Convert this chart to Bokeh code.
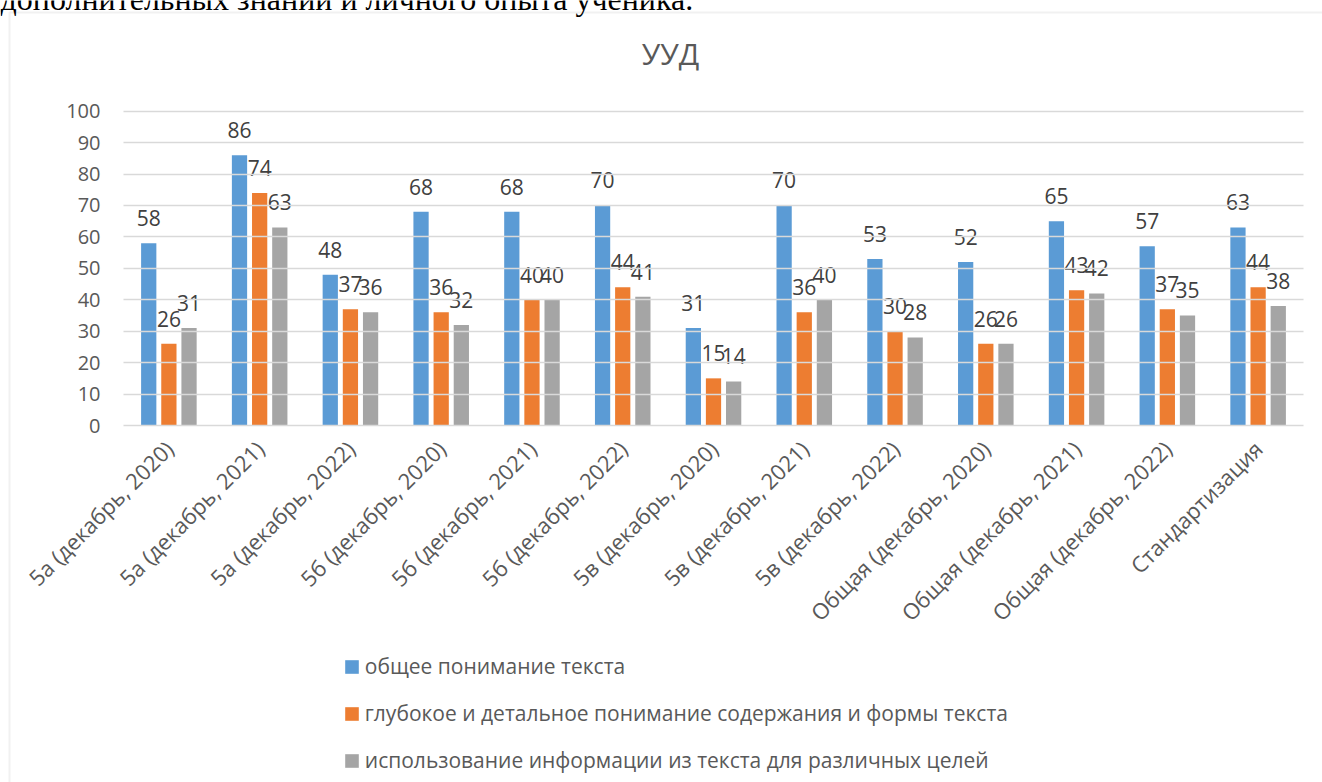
from math import pi
from bokeh.plotting import figure
from bokeh.models import (ColumnDataSource, Range1d, Legend, LegendItem, Label,
                          BoxAnnotation, FixedTicker)
from bokeh.transform import dodge
from bokeh.core.properties import value
from bokeh.embed import file_html
from bokeh.resources import INLINE

# ---------------- data ----------------
categories = [
    "5а (декабрь, 2020)", "5а (декабрь, 2021)", "5а (декабрь, 2022)",
    "5б (декабрь, 2020)", "5б (декабрь, 2021)", "5б (декабрь, 2022)",
    "5в (декабрь, 2020)", "5в (декабрь, 2021)", "5в (декабрь, 2022)",
    "Общая (декабрь, 2020)", "Общая (декабрь, 2021)", "Общая (декабрь, 2022)",
    "Стандартизация",
]
general_understanding = [58, 86, 48, 68, 68, 70, 31, 70, 53, 52, 65, 57, 63]
deep_understanding = [26, 74, 37, 36, 40, 44, 15, 36, 30, 26, 43, 37, 44]
information_use = [31, 63, 36, 32, 40, 41, 14, 40, 28, 26, 42, 35, 38]
series_names = [
    "общее понимание текста",
    "глубокое и детальное понимание содержания и формы текста",
    "использование информации из текста для различных целей",
]
y_ticks = [0, 10, 20, 30, 40, 50, 60, 70, 80, 90, 100]
chart_title = "УУД"
page_text = "дополнительных знаний и личного опыта ученика."

# ---------------- geometry / styles ----------------
colors = ["#5B9BD5", "#ED7D31", "#A5A5A5"]
text_color = "#595959"
grid_color = "#D9D9D9"
font = "Open Sans"

W, H = 1322, 782
AREA_LEFT, AREA_RIGHT = 123.0, 1303.0     # plot area in pixels
Y0_PX, Y100_PX = 425.0, 110.7             # pixel rows of 0 and 100
n = len(categories)
px_per_cat = (AREA_RIGHT - AREA_LEFT) / n
px_per_unit = (Y0_PX - Y100_PX) / 100.0


def xd(px):   # pixel column -> category coordinate (category i centred on i)
    return (px - AREA_LEFT) / px_per_cat - 0.5


def yd(py):   # pixel row -> value coordinate
    return (Y0_PX - py) / px_per_unit


p = figure(
    x_range=Range1d(xd(0), xd(W)), y_range=Range1d(yd(H), yd(0)),
    width=W, height=H, title=None,
    output_backend="svg", toolbar_location=None,
    min_border=0, min_border_left=0, min_border_right=0,
    min_border_top=0, min_border_bottom=0,
)
p.outline_line_color = None
p.background_fill_color = "white"
p.border_fill_color = "white"
p.xgrid.visible = False
p.ygrid.visible = False

# chart-area border (only its left and top edges are inside the window)
p.add_layout(BoxAnnotation(left=xd(9), right=xd(W + 50), top=yd(12), bottom=yd(H + 50),
                           fill_color=None, fill_alpha=0,
                           line_color="#D0D0D0", line_width=2))

series = [general_understanding, deep_understanding, information_use]
offsets = [-0.222, 0.0, 0.222]
src = ColumnDataSource(dict(
    idx=list(range(n)),
    s0=series[0], s1=series[1], s2=series[2],
    t0=[str(v) for v in series[0]],
    t1=[str(v) for v in series[1]],
    t2=[str(v) for v in series[2]],
))

renderers = []
for i in range(3):
    r = p.vbar(x=dodge("idx", offsets[i]), top=f"s{i}", bottom=0,
               width=0.168, source=src, fill_color=colors[i], line_color=None)
    renderers.append(r)
    p.text(x=dodge("idx", offsets[i]), y=f"s{i}", text=f"t{i}",
           source=src, text_align="center", text_baseline="middle", y_offset=-25,
           text_font=value(font), text_font_size="21px", text_color="#404040")

# x axis: category names, fixed on the zero line
p.xaxis.fixed_location = 0
p.xaxis.ticker = FixedTicker(ticks=list(range(n)))
p.xaxis.major_label_overrides = {i: c for i, c in enumerate(categories)}
p.xaxis.major_label_orientation = pi / 4
p.xaxis.axis_line_color = None
p.xaxis.major_tick_line_color = None
p.xaxis.major_tick_in = 0
p.xaxis.major_tick_out = 0
p.xaxis.minor_tick_line_color = None
p.xaxis.major_label_text_font = font
p.xaxis.major_label_text_font_size = "22px"
p.xaxis.major_label_text_color = text_color
p.xaxis.major_label_standoff = 19

# y axis fixed at the left edge of the plot area; its ticks run across as gridlines
p.yaxis.fixed_location = -0.5
p.yaxis.ticker = FixedTicker(ticks=y_ticks)
p.yaxis.axis_line_color = None
p.yaxis.major_tick_out = 0
p.yaxis.major_tick_in = int(AREA_RIGHT - AREA_LEFT)
p.yaxis.major_tick_line_color = grid_color
p.yaxis.major_tick_line_width = 1.5
p.yaxis.minor_tick_line_color = None
p.yaxis.major_label_text_font = font
p.yaxis.major_label_text_font_size = "20px"
p.yaxis.major_label_text_color = text_color
p.yaxis.major_label_standoff = 23

# chart title
p.add_layout(Label(x=xd(670), y=yd(53), text=chart_title,
                   text_align="center", text_baseline="alphabetic",
                   text_font=font, text_font_size="30px", text_color=text_color))

# document text cut by the window's top edge
p.add_layout(Label(x=xd(0), y=yd(-2), text=page_text, text_align="left",
                   text_baseline="alphabetic", text_font="Liberation Serif",
                   text_font_size="32px", text_color="#000000"))

legend = Legend(
    items=[LegendItem(label=series_names[i], renderers=[renderers[i]]) for i in range(3)],
    location=(342.8, 7.7), orientation="vertical",
    padding=0, margin=0, spacing=19,
    glyph_width=17, glyph_height=17, label_standoff=5,
    label_text_font=font, label_text_font_size="21px", label_text_color=text_color,
    border_line_color=None, background_fill_alpha=0,
)
p.add_layout(legend)

open("out.html", "w").write(file_html(p, INLINE))
